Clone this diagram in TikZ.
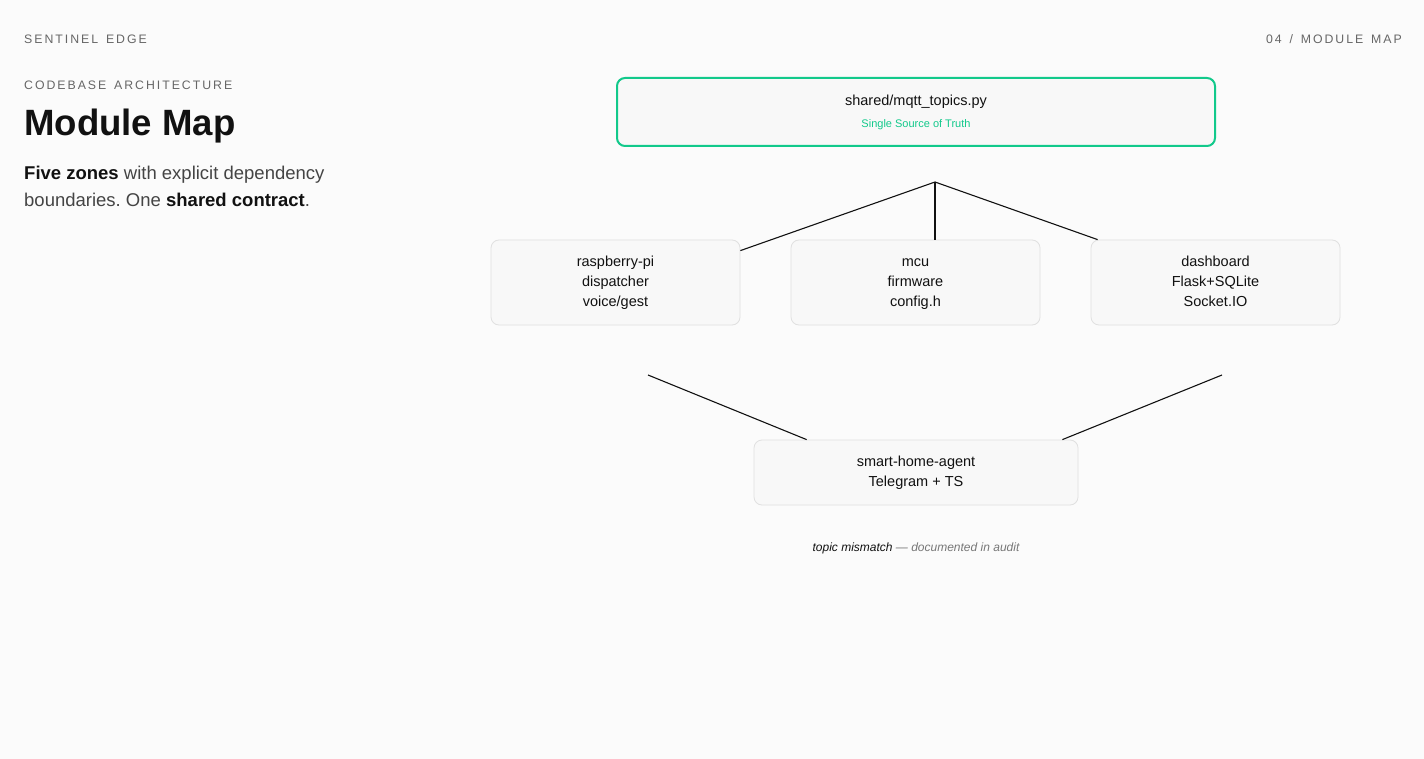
\documentclass[tikz,border=0pt]{standalone}
\usepackage{fontspec}
\setmainfont{Liberation Sans}
\newfontfamily\spaced[LetterSpace=16]{Liberation Sans}
\frenchspacing
\definecolor{bg}{HTML}{FBFBFB}
\definecolor{accent}{HTML}{12C98B}
\definecolor{boxfill}{HTML}{F8F8F8}
\definecolor{boxline}{HTML}{E0E0E0}
\definecolor{muted}{HTML}{666666}
\definecolor{ink}{HTML}{111111}
\definecolor{para}{HTML}{444444}
\definecolor{capgray}{HTML}{777777}
\newcommand{\boxline}[1]{\strut#1}
\newcommand{\wsp}{\hspace{2.5pt}}
\begin{document}
\begin{tikzpicture}[x=1pt,y=-1pt,
  modbox/.style={draw=boxline, fill=boxfill, rounded corners=8pt, line width=0.8pt,
    inner sep=0pt, align=center, text=ink,
    font=\fontsize{14.5}{20}\selectfont},
  topbox/.style={draw=accent, fill=boxfill, rounded corners=8pt, line width=2pt, inner sep=0pt},
  label/.style={inner sep=0pt, text=muted, font=\spaced\fontsize{12.3}{14}\selectfont},
  link/.style={draw=ink, line width=1.1pt}
]
\fill[bg] (0,0) rectangle (1424,759);
\useasboundingbox (0,0) rectangle (1424,759);

% header labels
\node[label, anchor=base west] (brand) at (24,44) {SENTINEL\wsp{} EDGE};
\node[label, anchor=base east] (page) at (1402,44) {04\wsp{} /\wsp{} MODULE\wsp{} MAP};
\node[label, anchor=base west] (kicker) at (24,89.5) {CODEBASE\wsp{} ARCHITECTURE};
\node[anchor=base west, inner sep=0pt, text=ink, font=\bfseries\fontsize{36.6}{40}\selectfont] (title) at (24,136) {Module Map};
\node[anchor=base west, inner sep=0pt, text=para, font=\fontsize{18.5}{27}\selectfont] (p1) at (24,180) {\textbf{\color{ink}Five zones} with explicit dependency};
\node[anchor=base west, inner sep=0pt, text=para, font=\fontsize{18.5}{27}\selectfont] (p2) at (24,207) {boundaries. One \textbf{\color{ink}shared contract}.};

% top box
\node[topbox, minimum width=598pt, minimum height=68pt] (shared) at (916,112) {};
\node[inner sep=0pt, anchor=base, text=ink, font=\fontsize{14.5}{16}\selectfont] (sharedt) at (916,106) {shared/mqtt\_topics.py};
\node[inner sep=0pt, anchor=base, text=accent, font=\fontsize{11}{13}\selectfont] (shareds) at (916,128) {Single Source of Truth};

% middle boxes
\node[modbox, minimum width=249pt, minimum height=85pt] (pi) at (615.5,282.5) {\boxline{raspberry-pi}\\\boxline{dispatcher}\\\boxline{voice/gest}};
\node[modbox, minimum width=249pt, minimum height=85pt] (mcu) at (915.5,282.5) {\boxline{mcu}\\\boxline{firmware}\\\boxline{config.h}};
\node[modbox, minimum width=249pt, minimum height=85pt] (dash) at (1215.5,282.5) {\boxline{dashboard}\\\boxline{Flask+SQLite}\\\boxline{Socket.IO}};

% bottom box
\node[modbox, minimum width=324pt, minimum height=65pt] (agent) at (916,472.5) {\boxline{smart-home-agent}\\\boxline{Telegram + TS}};

% caption
\node[inner sep=0pt, anchor=base, font=\itshape\fontsize{12}{14}\selectfont, text=ink] (note) at (916,551) {topic mismatch \textcolor{capgray}{— documented in audit}};

% connectors
\coordinate (j) at (935,182);
\coordinate (la) at (648,375);
\coordinate (ra) at (1222,375);
\draw[link] (j) -- ([yshift=-11pt]pi.north east);
\draw[link] (j) -- (j |- mcu.north);
\draw[link] (j) -- ([xshift=7pt]dash.north west);
\draw[link] (la) -- ([xshift=53pt]agent.north west);
\draw[link] (ra) -- ([xshift=-16pt]agent.north east);
\end{tikzpicture}
\end{document}
